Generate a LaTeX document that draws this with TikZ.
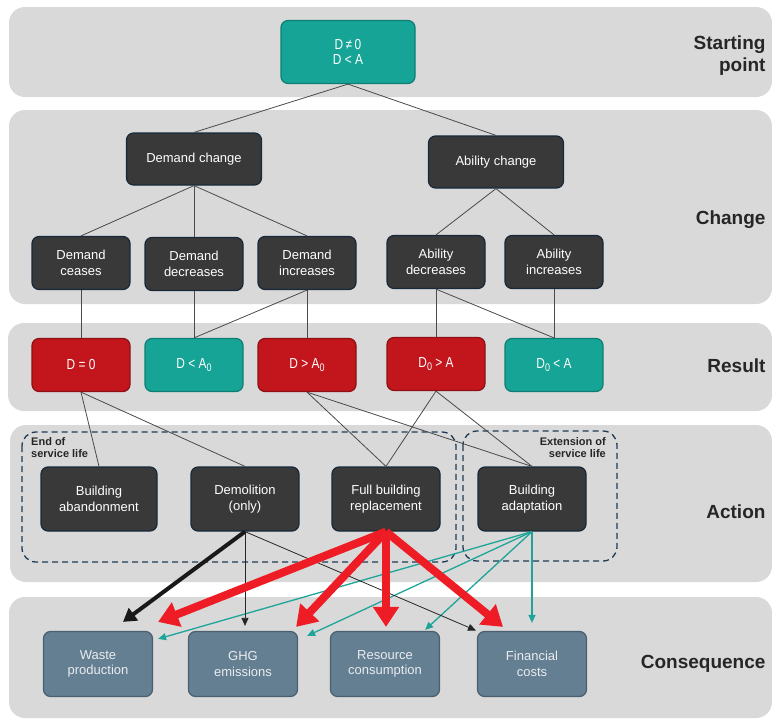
\documentclass[tikz,border=0pt]{standalone}
\usepackage{fontspec}
\setmainfont{Liberation Sans}
\newfontfamily\narrowfont[FakeStretch=0.82]{Liberation Sans}
\usetikzlibrary{arrows.meta,calc}

\definecolor{bandgray}{HTML}{D9D9D9}
\definecolor{boxdark}{HTML}{393939}
\definecolor{boxedge}{HTML}{17293A}
\definecolor{tealfill}{HTML}{16A497}
\definecolor{tealedge}{HTML}{0F7E74}
\definecolor{redfill}{HTML}{C3161C}
\definecolor{rededge}{HTML}{8C1014}
\definecolor{consfill}{HTML}{647E92}
\definecolor{consedge}{HTML}{4A5F70}
\definecolor{constext}{HTML}{E9EDF0}
\definecolor{labeltext}{HTML}{262626}
\definecolor{dashblue}{HTML}{1F3B57}
\definecolor{linkgray}{HTML}{4A4A4A}
\definecolor{tealline}{HTML}{1EA59A}
\definecolor{redline}{HTML}{EE1C24}

\newcommand{\subnum}[1]{\raisebox{-0.3ex}{\fontsize{11}{11}\selectfont#1}}

\tikzset{
  band/.style={fill=bandgray, rounded corners=16pt},
  box/.style={rounded corners=7pt, line width=1.2pt, align=center, text=white, inner sep=2pt},
  darkbox/.style={box, draw=boxedge, fill=boxdark, font=\fontsize{13}{15.5}\selectfont},
  tealbox/.style={box, draw=tealedge, fill=tealfill, font=\narrowfont\fontsize{14.5}{15.5}\selectfont},
  redbox/.style={box, draw=rededge, fill=redfill, font=\narrowfont\fontsize{14.5}{15.5}\selectfont},
  consbox/.style={box, draw=consedge, fill=consfill, text=constext, font=\fontsize{13}{15.5}\selectfont,
    minimum width=109pt, minimum height=65pt},
  wide/.style={minimum width=135pt, minimum height=52pt},
  small/.style={minimum width=98pt, minimum height=53pt},
  act/.style={minimum width=108pt, minimum height=64pt},
  rowlabel/.style={anchor=east, align=right, text=labeltext, font=\bfseries\fontsize{19}{22}\selectfont},
  grouplabel/.style={inner sep=0pt, text=labeltext, font=\bfseries\fontsize{11}{12.5}\selectfont},
  dashbox/.style={draw=dashblue, line width=1.3pt, dash pattern=on 6pt off 4pt, rounded corners=14pt},
  link/.style={draw=linkgray, line width=0.8pt},
  thinarrow/.style={draw=black!85, line width=0.8pt, -{Triangle[length=8pt,width=7pt]}},
  tealarrow/.style={draw=tealline, line width=1.3pt, -{Triangle[length=8pt,width=7pt]}},
  heavyarrow/.style={draw=black!90, line width=4pt, -{Triangle[length=13pt,width=15pt]}},
  redarrow/.style={draw=redline, line width=8pt, -{Triangle[length=20pt,width=25pt]}}
}

\begin{document}
\begin{tikzpicture}[x=1pt, y=-1pt]
\useasboundingbox (0,0) rectangle (772,721);

% bands
\fill[band] (9,7) rectangle (772,97);
\fill[band] (9,110) rectangle (772,304);
\fill[band] (8,323) rectangle (772,411);
\fill[band] (10,425) rectangle (772,582);
\fill[band] (9,597) rectangle (772,718);

\draw[dashbox] (22,432) rectangle (456,562);
\draw[dashbox] (463,431) rectangle (617,561);
\node[grouplabel, anchor=north west, align=left] (eol) at (31,437) {End of\\service life};
\node[grouplabel, anchor=north east, align=right] (ext) at (606,437) {Extension of\\service life};

\node[rowlabel] (lstart) at (769,56) {Starting\\point};
\node[rowlabel] (lchange) at (769,220) {Change};
\node[rowlabel] (lresult) at (769,366) {Result};
\node[rowlabel] (laction) at (769,512) {Action};
\node[rowlabel] (lcons) at (769,664) {Consequence};

% boxes
\node[tealbox, minimum width=134pt, minimum height=63pt] (start) at (348,52) {D\,≠\,0\\D < A};

\node[darkbox, wide] (dc) at (194,159) {Demand change};
\node[darkbox, wide] (ac) at (496,162) {Ability change};

\node[darkbox, small] (dcs) at (81,263) {Demand\\ceases};
\node[darkbox, small] (dde) at (194,264) {Demand\\decreases};
\node[darkbox, small] (din) at (307,263) {Demand\\increases};
\node[darkbox, small] (ade) at (436,262) {Ability\\decreases};
\node[darkbox, small] (ain) at (554,262) {Ability\\increases};

\node[redbox, small] (r1) at (81,365) {D = 0};
\node[tealbox, small] (r2) at (194,365) {D < A\subnum{0}};
\node[redbox, small] (r3) at (307,365) {D > A\subnum{0}};
\node[redbox, small] (r4) at (436,364) {D\subnum{0} > A};
\node[tealbox, small] (r5) at (554,365) {D\subnum{0} < A};

\node[darkbox, act, minimum width=116pt] (ba) at (99,499) {Building\\abandonment};
\node[darkbox, act] (dem) at (245,499) {Demolition\\(only)};
\node[darkbox, act] (fbr) at (386,499) {Full building\\replacement};
\node[darkbox, act] (ad) at (532,499) {Building\\adaptation};

\node[consbox] (wp) at (98,664) {Waste\\production};
\node[consbox] (ghg) at (243,664) {GHG\\emissions};
\node[consbox] (rc) at (385,664) {Resource\\consumption};
\node[consbox] (fc) at (532,664) {Financial\\costs};

% tree lines
\draw[link] (start.south) -- (dc.north);
\draw[link] (start.south) -- (ac.north);
\foreach \t in {dcs,dde,din} \draw[link] (dc.south) -- (\t.north);
\foreach \t in {ade,ain} \draw[link] (ac.south) -- (\t.north);
\draw[link] (dcs.south) -- (r1.north);
\draw[link] (dde.south) -- (r2.north);
\draw[link] (din.south) -- (r2.north);
\draw[link] (din.south) -- (r3.north);
\draw[link] (ade.south) -- (r4.north);
\draw[link] (ade.south) -- (r5.north);
\draw[link] (ain.south) -- (r5.north);
\draw[link] (r1.south) -- (ba.north);
\draw[link] (r1.south) -- (dem.north);
\draw[link] (r3.south) -- (fbr.north);
\draw[link] (r3.south) -- (ad.north);
\draw[link] (r4.south) -- (fbr.north);
\draw[link] (r4.south) -- (ad.north);

% consequences
\draw[tealarrow] (ad.south) -- ($(wp.north east)+(5,8)$);
\draw[tealarrow] (ad.south) -- ($(ghg.north east)+(9,5)$);
\draw[tealarrow] (ad.south) -- ($(rc.north east)+(-15,-1)$);
\draw[tealarrow] (ad.south) -- ($(fc.north)+(0,-8)$);
\draw[thinarrow, shorten >=5pt] (dem.south) -- (dem.south |- ghg.north);
\draw[thinarrow, shorten >=1pt] (dem.south) -- (fc.north west);
\draw[heavyarrow] (dem.south) -- ($(wp.north)+(25,-9)$);
\draw[redarrow] (fbr.south) -- ($(wp.north east)+(5,-9)$);
\draw[redarrow] (fbr.south) -- ($(ghg.north east)+(-2,-4)$);
\draw[redarrow] (fbr.south) -- ($(rc.north)+(1,-4)$);
\draw[redarrow] (fbr.south) -- ($(fc.north)+(-29,-4)$);
\end{tikzpicture}
\end{document}
